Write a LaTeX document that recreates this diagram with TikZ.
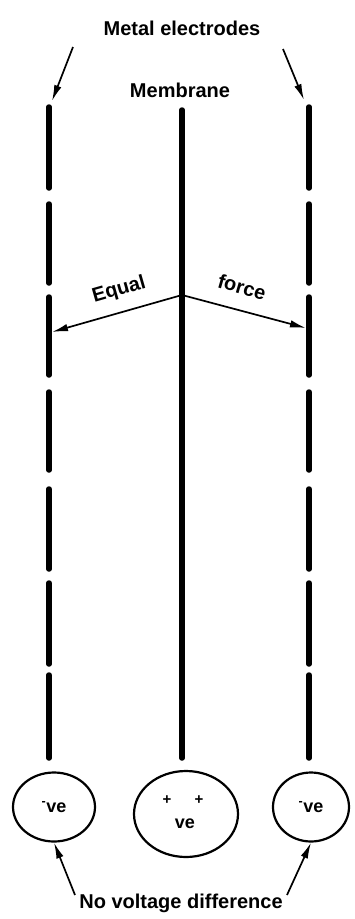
\documentclass[tikz,border=0pt]{standalone}
\usepackage{fontspec}
\setmainfont{Liberation Sans}
\usetikzlibrary{arrows.meta,shapes.geometric}
\begin{document}
\begin{tikzpicture}[x=1pt,y=-1pt,
  lbl/.style={font=\fontsize{20}{22}\selectfont\bfseries, inner sep=0pt},
  electrode/.style={line width=5.5pt, line cap=round},
  pointer/.style={line width=1.7pt, -{Latex[length=16pt,width=7.5pt]}},
  cell/.style={draw, ellipse, line width=2.2pt, inner sep=0pt,
    font=\fontsize{18}{20}\selectfont\bfseries}]
\useasboundingbox (0,0) rectangle (355,919);
% electrodes (dashed)
\foreach \a/\b in {107/188, 204/283, 297/375, 392/470, 489/569, 583/664, 675/758}{
  \draw[electrode] (49,\a) -- (49,\b);
  \draw[electrode] (309,\a) -- (309,\b);
}
% membrane
\coordinate (memtop) at (182,110);
\coordinate (membot) at (182,758);
\draw[electrode] (memtop) -- (membot);
% labels
\node[lbl] (metal) at (182,28) {Metal electrodes};
\node[lbl] (membrane) at (180,90) {Membrane};
\coordinate (mtl) at (73,47);
\coordinate (mtltip) at (52,101);
\coordinate (mtr) at (283,49);
\coordinate (mtrtip) at (304,100);
\draw[pointer] (mtl) -- (mtltip);
\draw[pointer] (mtr) -- (mtrtip);
% force arrows
\coordinate (forg) at (182,295);
\coordinate (fleft) at (52,332);
\coordinate (fright) at (306,328);
\draw[pointer] (forg) -- (fleft);
\draw[pointer] (forg) -- (fright);
\node[lbl, rotate=16] (equal) at (119,290) {Equal};
\node[lbl, rotate=-16] (force) at (242,287) {force};
% cells
\node[cell, minimum width=82pt, minimum height=69pt] (lcell) at (54,807) {\textsuperscript{-}ve};
\node[cell, minimum width=104pt, minimum height=86pt] (ccell) at (186,814) {};
\node[lbl, font=\fontsize{15}{17}\selectfont\bfseries] (p1) at (167,800) {+};
\node[lbl, font=\fontsize{15}{17}\selectfont\bfseries] (p2) at (199,800) {+};
\node[lbl, font=\fontsize{18}{20}\selectfont\bfseries] (cve) at (185,824) {ve};
\node[cell, minimum width=76pt, minimum height=69pt] (rcell) at (311,807) {\textsuperscript{-}ve};
% bottom label
\node[lbl] (novolt) at (181,903) {No voltage difference};
\coordinate (nvl) at (75,895);
\coordinate (nvr) at (287,895);
\draw[pointer] (nvl) -- (lcell.south);
\draw[pointer] (nvr) -- (rcell.south);
\end{tikzpicture}
\end{document}
